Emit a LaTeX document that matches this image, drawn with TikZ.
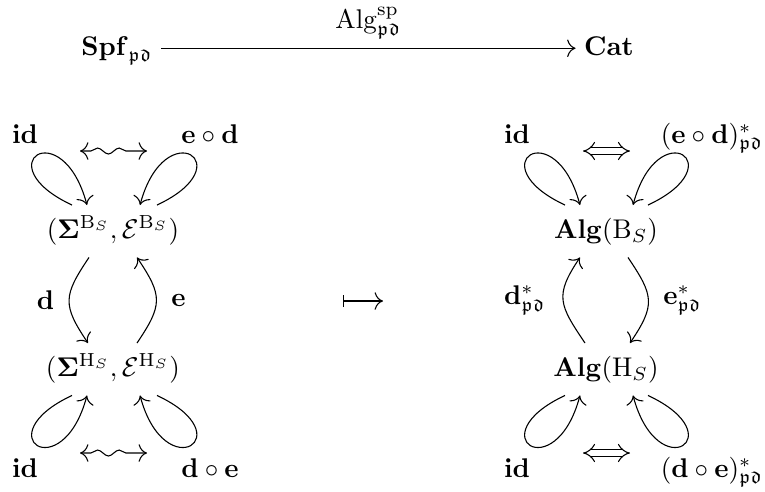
\documentclass[tikz,border=0pt]{standalone}
\usepackage{amsmath,amssymb}
\usetikzlibrary{calc,arrows.meta,decorations.pathmorphing}

\tikzset{
  obj/.style={anchor=base, inner sep=3pt, text height=9pt, text depth=4pt},
  lbl/.style={anchor=base, inner sep=0pt},
  loopy/.style={->, distance=1.25cm},
  bow/.style={->, distance=0.6cm},
  squig/.style={<->, decorate, decoration={snake, amplitude=1.1pt, segment length=8pt, pre length=4pt, post length=4pt}},
  dbl/.style={{Implies}-{Implies}, double, double distance=2pt},
}

\begin{document}
\begin{tikzpicture}[x=0.013cm, y=0.013cm, >={To[scale=1.25]}]
\useasboundingbox (0,0) rectangle (765,-491);

% ── Top row ──
\node[obj] (spf) at (117,-55) {$\mathbf{Spf}_{\mathfrak{pd}}$};
\node[obj] (cat) at (609,-55) {$\mathbf{Cat}$};
\draw[->] (spf) -- (cat) node[midway, above] {$\mathrm{Alg}^{\mathrm{sp}}_{\mathfrak{pd}}$};

% ── Left square: signatures ──
\node[obj] (sigB) at (113,-238) {$(\mathbf{\Sigma}^{\mathrm{B}_S},\mathcal{E}^{\mathrm{B}_S})$};
\node[obj] (sigH) at (113,-376) {$(\mathbf{\Sigma}^{\mathrm{H}_S},\mathcal{E}^{\mathrm{H}_S})$};

\node[lbl] (idBl) at (25,-143)  {$\mathbf{id}$};
\node[lbl] (edl)  at (210,-143) {$\mathbf{e}\circ\mathbf{d}$};
\node[lbl] (idHl) at (25,-477)  {$\mathbf{id}$};
\node[lbl] (del)  at (210,-477) {$\mathbf{d}\circ\mathbf{e}$};

\draw[loopy] ($(sigB.north)+(-41,0)$) to[out=155, in=105] ($(sigB.north)+(-26,0)$);
\draw[loopy] ($(sigB.north)+(44,0)$)  to[out=25,  in=75]  ($(sigB.north)+(27,0)$);
\draw[loopy] ($(sigH.south)+(-41,0)$) to[out=205, in=255] ($(sigH.south)+(-26,0)$);
\draw[loopy] ($(sigH.south)+(44,0)$)  to[out=-25, in=-75] ($(sigH.south)+(27,0)$);

\draw[bow] ($(sigB.south)+(-24,0)$) to[out=236, in=124]
  node[midway, left=2pt] {$\mathbf{d}$} ($(sigH.north)+(-25,0)$);
\draw[bow] ($(sigH.north)+(24,0)$) to[out=56, in=-56]
  node[midway, right=2pt] {$\mathbf{e}$} ($(sigB.south)+(24,0)$);

\coordinate (sqTa) at (80,-151);  \coordinate (sqTb) at (147,-151);
\coordinate (sqBa) at (80,-453);  \coordinate (sqBb) at (147,-453);
\draw[squig] (sqTa) -- (sqTb);
\draw[squig] (sqBa) -- (sqBb);

% ── Maps to ──
\coordinate (mapa) at (343,-301);
\coordinate (mapb) at (383,-301);
\draw[|->] (mapa) -- (mapb);

% ── Right square: algebras ──
\node[obj] (algB) at (606,-238) {$\mathbf{Alg}(\mathrm{B}_S)$};
\node[obj] (algH) at (606,-376) {$\mathbf{Alg}(\mathrm{H}_S)$};

\node[lbl] (idBr) at (517,-143) {$\mathbf{id}$};
\node[lbl] (edr)  at (712,-143) {$(\mathbf{e}\circ\mathbf{d})^*_{\mathfrak{pd}}$};
\node[lbl] (idHr) at (517,-477) {$\mathbf{id}$};
\node[lbl] (der)  at (712,-477) {$(\mathbf{d}\circ\mathbf{e})^*_{\mathfrak{pd}}$};

\draw[loopy] ($(algB.north)+(-41,0)$) to[out=155, in=105] ($(algB.north)+(-26,0)$);
\draw[loopy] ($(algB.north)+(42,0)$)  to[out=25,  in=75]  ($(algB.north)+(27,0)$);
\draw[loopy] ($(algH.south)+(-41,0)$) to[out=205, in=255] ($(algH.south)+(-26,0)$);
\draw[loopy] ($(algH.south)+(42,0)$)  to[out=-25, in=-75] ($(algH.south)+(27,0)$);

\draw[bow] ($(algH.north)+(-21,0)$) to[out=124, in=-124]
  node[midway, left=3pt] {$\mathbf{d}^*_{\mathfrak{pd}}$} ($(algB.south)+(-26,0)$);
\draw[bow] ($(algB.south)+(22,0)$) to[out=-56, in=56]
  node[midway, right=2pt] {$\mathbf{e}^*_{\mathfrak{pd}}$} ($(algH.north)+(24,0)$);

\coordinate (dbTa) at (583,-151);  \coordinate (dbTb) at (630,-151);
\coordinate (dbBa) at (583,-453);  \coordinate (dbBb) at (630,-453);
\draw[dbl] (dbTa) -- (dbTb);
\draw[dbl] (dbBa) -- (dbBb);

\end{tikzpicture}
\end{document}
